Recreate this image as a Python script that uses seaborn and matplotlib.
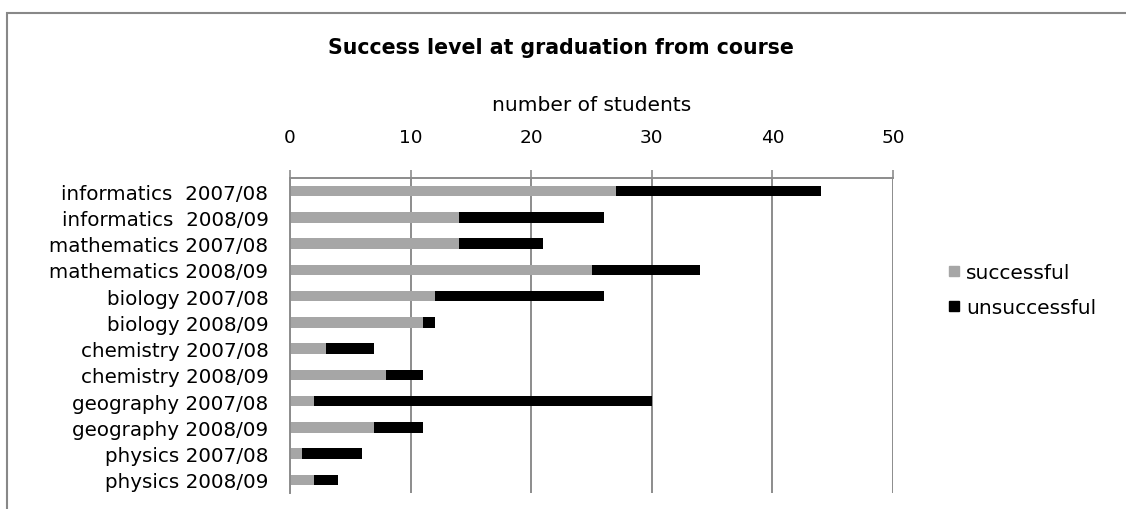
import matplotlib
matplotlib.use("Agg")
import matplotlib.pyplot as plt
import seaborn as sns
import pandas as pd
from matplotlib.lines import Line2D
from matplotlib.patches import Rectangle
from matplotlib.ticker import FixedLocator

categories = ["informatics  2007/08", "informatics  2008/09", "mathematics 2007/08",
              "mathematics 2008/09", "biology 2007/08", "biology 2008/09",
              "chemistry 2007/08", "chemistry 2008/09", "geography 2007/08",
              "geography 2008/09", "physics 2007/08", "physics 2008/09"]
successful = [27, 14, 14, 25, 12, 11, 3, 8, 2, 7, 1, 2]
unsuccessful = [17, 12, 7, 9, 14, 1, 4, 3, 28, 4, 5, 2]
xticks = [0, 10, 20, 30, 40, 50]

title = "Success level at graduation from course"
xlabel = "number of students"

df = pd.DataFrame({"course": categories, "successful": successful,
                   "unsuccessful": unsuccessful})
df["total"] = df["successful"] + df["unsuccessful"]

sns.set_style("white")
plt.rcParams["font.family"] = ["DejaVu Sans"]
plt.rcParams["text.color"] = "black"
plt.rcParams["axes.labelcolor"] = "black"
plt.rcParams["xtick.labelcolor"] = "black"
plt.rcParams["ytick.labelcolor"] = "black"

W, H = 1126, 510
fig = plt.figure(figsize=(W / 100, H / 100), dpi=100)
ax = fig.add_axes([290 / W, 1 - 494 / H, (893 - 290) / W, (494 - 179) / H])

GRAY = "#a6a6a6"
LINE = "#8c8c8c"

sns.barplot(data=df, y="course", x="total", color="black", orient="h",
            width=0.4, ax=ax, saturation=1, errorbar=None, linewidth=0)
sns.barplot(data=df, y="course", x="successful", color=GRAY, orient="h",
            width=0.4, ax=ax, saturation=1, errorbar=None, linewidth=0)

ax.set_xlim(0, 50)
ax.set_ylim(len(categories) - 0.5, -0.5)
ax.set_xticks(xticks)
ax.xaxis.tick_top()
ax.xaxis.set_label_position("top")
ax.set_xlabel(xlabel, fontsize=14.5, labelpad=13, color="black")
ax.set_ylabel("")
ax.tick_params(axis="x", direction="out", length=6, width=1.2, color=LINE,
               pad=17, labelsize=13.3, labelcolor="black")
ax.tick_params(axis="y", which="major", length=0, pad=15.5, labelsize=14.3,
               labelcolor="black")
ax.yaxis.set_minor_locator(FixedLocator([i - 0.5 for i in range(len(categories) + 1)]))
ax.tick_params(axis="y", which="minor", direction="out", length=7, width=1.2,
               color=LINE)

ax.grid(axis="x", color=LINE, linewidth=1.4)
ax.grid(axis="y", visible=False)
ax.set_axisbelow(True)
for s in ["bottom", "right"]:
    ax.spines[s].set_visible(False)
for s in ["top", "left"]:
    ax.spines[s].set_color(LINE)
    ax.spines[s].set_linewidth(1.4)

fig.text(561 / W, 1 - 48 / H, title, ha="center", va="center",
         fontsize=14.8, fontweight="bold", color="black")

handles = [Line2D([], [], marker="s", linestyle="none", markersize=7,
                  markerfacecolor=GRAY, markeredgecolor=GRAY, label="successful"),
           Line2D([], [], marker="s", linestyle="none", markersize=7,
                  markerfacecolor="black", markeredgecolor="black", label="unsuccessful")]
fig.legend(handles=handles, loc="upper left", bbox_to_anchor=(940 / W, 1 - 256 / H),
           frameon=False, fontsize=14.5, handlelength=0.6, handletextpad=0.3,
           labelspacing=0.8, borderaxespad=0, labelcolor="black")

fig.patches.append(Rectangle((7.5 / W, -0.1), 2, 1.1 - 13.5 / H,
                             transform=fig.transFigure, fill=False,
                             edgecolor="#888888", linewidth=1.5))

fig.savefig("out.png", dpi=100)
